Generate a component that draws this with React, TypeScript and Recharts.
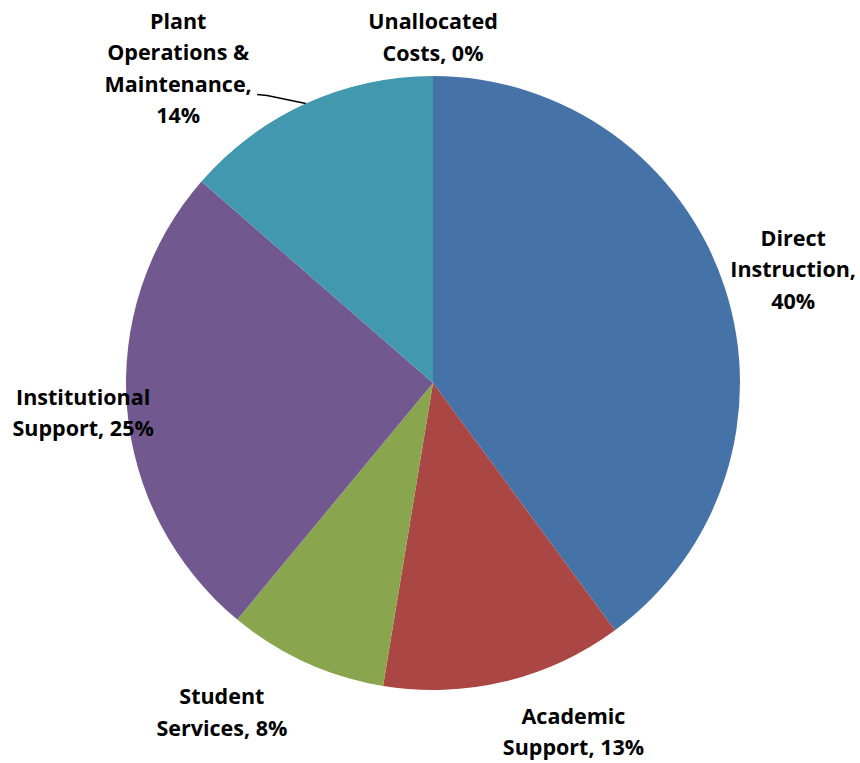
import React from "react";
import { PieChart, Pie, Cell } from "recharts";

const categories = [
  "Direct Instruction",
  "Academic Support",
  "Student Services",
  "Institutional Support",
  "Plant Operations & Maintenance",
  "Unallocated Costs",
];
const shares = [39.9, 12.7, 8.4, 25.4, 13.6, 0];
const pctLabels = ["40%", "13%", "8%", "25%", "14%", "0%"];
const labelLines = [
  ["Direct", "Instruction,", "40%"],
  ["Academic", "Support, 13%"],
  ["Student", "Services, 8%"],
  ["Institutional", "Support, 25%"],
  ["Plant", "Operations &", "Maintenance,", "14%"],
  ["Unallocated", "Costs, 0%"],
];
const colors = ["#4572A7", "#AA4643", "#89A54E", "#71588F", "#4198AF", "#DB843D"];

// label placement: angle nudge (deg) from mid-angle, distance from centre
const labelLayout = [
  { da: -0.5, r: 378, leader: false },
  { da: 8.5, r: 375, leader: false },
  { da: -8.3, r: 390, leader: false },
  { da: 0, r: 351, leader: false },
  { da: 14.4, r: 406, leader: true },
  { da: 0, r: 347, leader: false },
];

const data = categories.map((name, i) => ({
  name,
  value: shares[i],
  pct: pctLabels[i],
}));

const RAD = Math.PI / 180;
const polar = (cx: number, cy: number, r: number, deg: number) => ({
  x: cx + r * Math.cos(-deg * RAD),
  y: cy + r * Math.sin(-deg * RAD),
});

const LH = 31.5;

const renderLabel = (props: any) => {
  const { cx, cy, midAngle, outerRadius, index } = props;
  const lay = labelLayout[index];
  const lines = labelLines[index];
  const p = polar(cx, cy, lay.r, midAngle + lay.da);
  const y0 = p.y - ((lines.length - 1) / 2) * LH;
  let leader = null;
  if (lay.leader) {
    const a = polar(cx, cy, outerRadius, midAngle);
    const b = polar(cx, cy, outerRadius + 25, midAngle + 5.5);
    leader = (
      <polyline
        points={`${a.x},${a.y} ${b.x},${b.y} ${b.x - 10},${b.y - 1}`}
        fill="none"
        stroke="#000"
        strokeWidth={1.5}
      />
    );
  }
  return (
    <g key={`lbl-${index}`}>
      {leader}
      <text
        x={p.x}
        y={y0}
        textAnchor="middle"
        dominantBaseline="central"
        fontFamily="'Open Sans', Lato, sans-serif"
        fontWeight={700}
        fontSize={21.5}
        fill="#000"
      >
        {lines.map((ln, k) => (
          <tspan key={k} x={p.x} y={y0 + k * LH}>
            {ln}
          </tspan>
        ))}
      </text>
    </g>
  );
};

export default function App() {
  return (
    <div style={{ position: "absolute", left: 0, top: 0, width: 860, height: 763, background: "#fff" }}>
      <PieChart width={860} height={763} margin={{ top: 0, right: 0, bottom: 0, left: 0 }}>
        <Pie
          data={data}
          dataKey="value"
          nameKey="name"
          cx={433}
          cy={383}
          outerRadius={307}
          startAngle={90}
          endAngle={-270}
          stroke="none"
          label={renderLabel}
          labelLine={false}
          isAnimationActive={false}
        >
          {data.map((d, i) => (
            <Cell key={d.name} fill={colors[i]} />
          ))}
        </Pie>
      </PieChart>
    </div>
  );
}
